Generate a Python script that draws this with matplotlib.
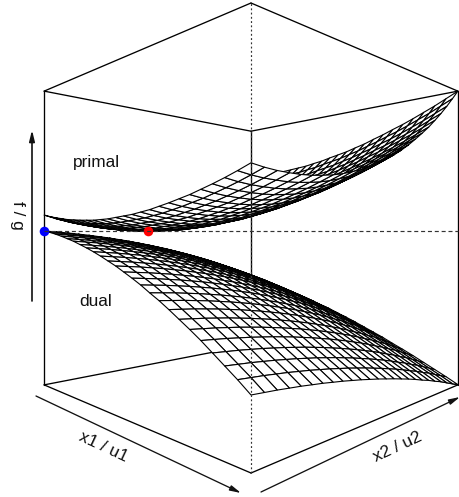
import numpy as np
import matplotlib
matplotlib.use("Agg")
import matplotlib.pyplot as plt
from matplotlib.collections import PolyCollection

plt.rcParams['font.family'] = ['Liberation Sans', 'DejaVu Sans']

# heights in 1/1000 of the box, estimated from the picture along the surface edges
n_grid = 25
grid = np.arange(n_grid) / (n_grid - 1)

primal_edge_x1 = [578, 572, 567, 563, 559, 557, 555, 554, 553, 554, 555, 558, 561,
                  564, 569, 574, 581, 588, 596, 604, 614, 624, 635, 647, 660]
primal_edge_x2 = [578, 567, 558, 551, 545, 541, 539, 538, 539, 542, 546, 553, 560,
                  570, 581, 594, 609, 626, 644, 663, 685, 708, 733, 760, 788]
primal_mix_x1 = [0, 5, 11, 16, 22, 27, 33, 38, 43, 49, 54, 60, 65,
                 70, 76, 81, 87, 92, 98, 103, 108, 114, 119, 125, 130]

dual_edge_x1 = [524, 519, 513, 506, 498, 490, 480, 470, 459, 447, 434, 421, 406,
                391, 375, 357, 340, 321, 301, 281, 260, 237, 214, 191, 166]
dual_edge_x2 = [524, 521, 518, 514, 510, 505, 500, 494, 488, 481, 474, 466, 458,
                449, 440, 430, 420, 409, 397, 386, 373, 361, 347, 333, 319]
dual_mix_x1 = [0, -2, -4, -6, -7, -8, -9, -9, -9, -8, -8, -6, -5,
               -3, -1, 2, 4, 8, 11, 15, 19, 24, 29, 34, 40]
dual_mix_x2 = [0, 0.002, 0.007, 0.016, 0.028, 0.043, 0.063, 0.085, 0.111, 0.141, 0.174, 0.21, 0.25,
               0.293, 0.34, 0.391, 0.444, 0.502, 0.563, 0.627, 0.694, 0.766, 0.84, 0.918, 1]

optimal_value = 0.524
dual_optimum = (0.0, 0.0)
primal_optimum = (0.25, 0.25)


def surface_heights(edge_x1, edge_x2, mix_x1, mix_x2):
    edge_x1, edge_x2 = np.array(edge_x1, float), np.array(edge_x2, float)
    return (np.add.outer(edge_x1, edge_x2) - edge_x1[0] + np.outer(mix_x1, mix_x2)) / 1000


def view_depth(x1, x2):
    return 1.6 - 0.6 * np.asarray(x1, float) + 0.6 * np.asarray(x2, float)


def project(x1, x2, z):
    # same kind of view as a perspective box seen from its mid height
    x1, x2, z = np.asarray(x1, float), np.asarray(x2, float), np.asarray(z, float)
    w = view_depth(x1, x2)
    return 251 + 331 * (x1 + x2 - 1) / w, 238 + 470 * (0.5 - z) / w


def edge(ax, a, b, **kw):
    kw.setdefault("color", "black")
    kw.setdefault("lw", 0.95)
    sx, sy = project(*zip(a, b))
    ax.plot(sx, sy, solid_capstyle="round", **kw)


def surface(ax, heights, zorder):
    X1, X2 = np.meshgrid(grid, grid, indexing="ij")
    sx, sy = project(X1, X2, heights)
    cells, depth = [], []
    for i in range(n_grid - 1):
        for j in range(n_grid - 1):
            cells.append([(sx[i, j], sy[i, j]), (sx[i + 1, j], sy[i + 1, j]),
                          (sx[i + 1, j + 1], sy[i + 1, j + 1]), (sx[i, j + 1], sy[i, j + 1])])
            depth.append(view_depth(X1[i, j], X2[i, j]))
    order = np.argsort(depth)[::-1]
    ax.add_collection(PolyCollection([cells[k] for k in order], facecolors="white",
                                     edgecolors="black", linewidths=0.8, zorder=zorder))


primal = surface_heights(primal_edge_x1, primal_edge_x2, primal_mix_x1, grid)
dual = surface_heights(dual_edge_x1, dual_edge_x2, dual_mix_x1, dual_mix_x2)

fig = plt.figure(figsize=(4.6, 4.97), dpi=100)
ax = fig.add_axes([0, 0, 1, 1])
ax.set_xlim(0, 460)
ax.set_ylim(497, 0)
ax.axis("off")

for a, b in [((0, 0, 0), (0, 1, 0)), ((0, 1, 0), (1, 1, 0)), ((0, 0, 0), (1, 0, 0)), ((1, 0, 0), (1, 1, 0)),
             ((0, 0, 1), (0, 1, 1)), ((0, 1, 1), (1, 1, 1)), ((0, 0, 1), (1, 0, 1)), ((1, 0, 1), (1, 1, 1)),
             ((0, 0, 0), (0, 0, 1)), ((1, 1, 0), (1, 1, 1))]:
    edge(ax, a, b, zorder=1)

surface(ax, primal, 2)
edge(ax, (0, 1, 0), (0, 1, 1), zorder=3)
surface(ax, dual, 4)
edge(ax, (1, 0, 0), (1, 0, 1), ls=(0, (1.6, 2.0)), zorder=5, color="#333333", lw=0.85)

sx, sy = project(*zip(dual_optimum, primal_optimum), [optimal_value, optimal_value])
ax.scatter(sx[0], sy[0], s=48, c="#0000ff", zorder=6, linewidths=0)
ax.scatter(sx[1], sy[1], s=48, c="#ff0000", zorder=6, linewidths=0)
edge(ax, (0, 0, optimal_value), (1, 1, optimal_value), ls=(0, (3.4, 2.4)), zorder=7, color="#333333", lw=0.85)

for p, q, lw in [((36, 396), (241, 493), 0.95), ((261, 492), (460, 397), 0.95), ((32, 301), (32, 130), 1.2)]:
    ax.annotate("", xy=q, xytext=p, arrowprops=dict(arrowstyle="-|>,head_length=0.65,head_width=0.16",
                                                    color="#111111", lw=lw, shrinkA=0, shrinkB=0))

ax.text(96, 163, "primal", ha="center", va="center", fontsize=12.4, color="#111111")
ax.text(96, 302, "dual", ha="center", va="center", fontsize=12.4, color="#111111")
ax.text(103, 447, "x1 / u1", ha="center", va="center", fontsize=12.4, rotation=-25, color="#111111")
ax.text(398, 447, "x2 / u2", ha="center", va="center", fontsize=12.4, rotation=25, color="#111111")
ax.text(17, 215, "f / g", ha="center", va="center", fontsize=12.4, rotation=-90, color="#111111")

fig.savefig("out.png", dpi=100)
